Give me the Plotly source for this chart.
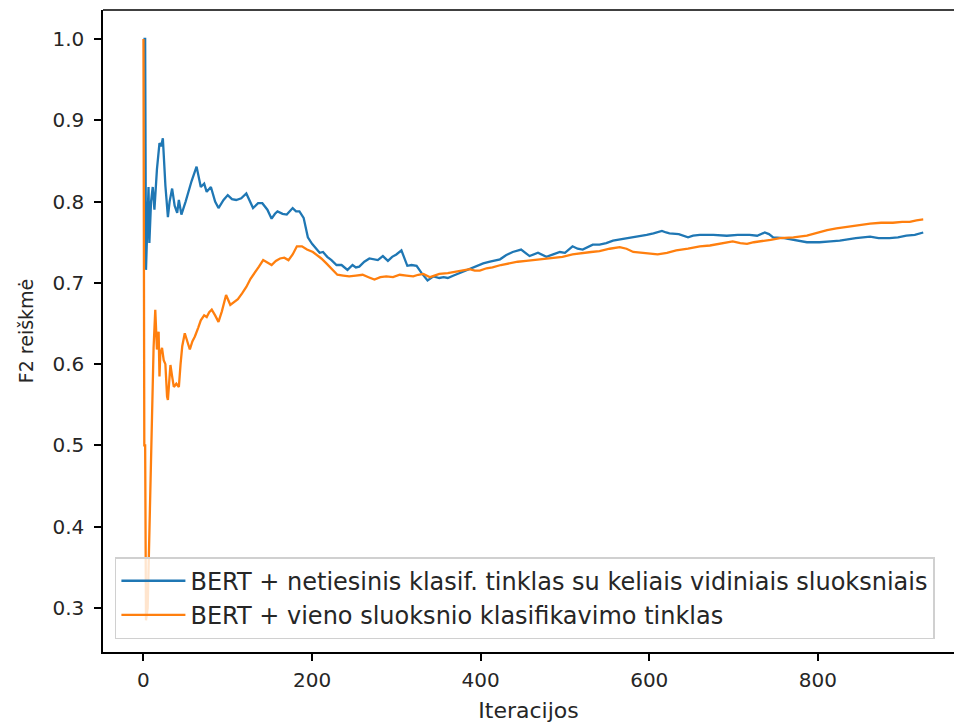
import plotly.graph_objects as go

series_names = [
    "BERT + netiesinis klasif. tinklas su keliais vidiniais sluoksniais",
    "BERT + vieno sluoksnio klasifikavimo tinklas",
]
series_colors = ["#1f77b4", "#ff7f0e"]

blue_x = [0, 2, 3, 6, 7, 9, 11, 13, 16, 19, 21, 23, 26, 29, 31, 34, 37, 40, 42, 45, 50, 57, 63, 68, 72, 75, 80, 85, 89, 95,
          100, 105, 110, 116, 122, 126, 130, 136, 141, 147, 152, 156, 159, 165, 170, 177, 181, 185, 190, 195, 200, 205,
          209, 213, 218, 223, 229, 235, 242, 248, 252, 256, 262, 268, 273, 278, 284, 290, 295, 300, 306, 310, 313, 318,
          324, 330, 337, 344, 351, 356, 361, 368, 375, 385, 395, 403, 411, 423, 430, 438, 448, 453, 458, 468, 478, 486,
          494, 500, 509, 515, 521, 533, 541, 549, 557, 569, 581, 590, 597, 605, 615, 620, 624, 635, 646, 652, 660, 676,
          692, 705, 719, 728, 737, 742, 747, 760, 771, 780, 787, 795, 802, 815, 826, 845, 862, 872, 885, 895, 905, 915, 925]
blue_y = [1.0, 1.0, 0.716, 0.818, 0.749, 0.80, 0.818, 0.79, 0.84, 0.872, 0.868, 0.878, 0.82, 0.781, 0.80, 0.816, 0.795,
          0.786, 0.802, 0.784, 0.80, 0.825, 0.843, 0.818, 0.822, 0.812, 0.818, 0.80, 0.792, 0.802,
          0.808, 0.803, 0.802, 0.804, 0.810, 0.800, 0.792, 0.798, 0.798, 0.790, 0.779, 0.785, 0.788, 0.785, 0.784, 0.792,
          0.788, 0.788, 0.780, 0.756, 0.748, 0.742,
          0.737, 0.738, 0.732, 0.728, 0.722, 0.722, 0.716, 0.722, 0.719, 0.720, 0.726, 0.730, 0.729, 0.728, 0.733, 0.727,
          0.732, 0.735, 0.740, 0.730, 0.721, 0.722,
          0.721, 0.712, 0.703, 0.708, 0.706, 0.707, 0.706, 0.709, 0.712, 0.716, 0.720, 0.724, 0.726, 0.729, 0.734, 0.738,
          0.741, 0.737, 0.733, 0.737, 0.732, 0.735,
          0.738, 0.737, 0.745, 0.742, 0.741, 0.747, 0.747, 0.749, 0.752, 0.754, 0.756, 0.757, 0.759, 0.761, 0.764, 0.762,
          0.761, 0.760, 0.756, 0.758, 0.759, 0.759,
          0.758, 0.759, 0.759, 0.758, 0.762, 0.760, 0.756, 0.755, 0.753, 0.751, 0.750, 0.750, 0.750, 0.751, 0.752, 0.755,
          0.757, 0.755, 0.755, 0.756, 0.758, 0.759, 0.762]

orange_x = [0, 1, 2, 3, 5, 8, 12, 14, 16, 18, 19, 20, 22, 24, 26, 28, 29, 31, 32, 34, 36, 39, 42, 44, 46, 49, 52, 55, 58,
            61, 65, 68, 72, 75, 78, 81, 85, 89, 93, 98, 103, 108, 112, 117, 122, 127, 132, 137, 142, 147, 152, 157, 162,
            167, 172, 177, 182, 188, 194, 201, 206, 211, 217, 223, 230, 237, 244, 252, 260, 267, 274, 281, 288, 296, 304,
            312, 320, 326, 332, 340, 346, 351, 361, 371, 379, 387, 393, 399, 407, 414, 424, 434, 444, 454, 463, 473, 485,
            497, 509, 521, 531, 541, 553, 565, 573, 581, 590, 600, 610, 621, 632, 646, 660, 672, 684, 692, 699, 708, 716,
            724, 732, 744, 755, 771, 787, 800, 811, 822, 834, 848, 862, 875, 889, 900, 909, 917, 925]
orange_y = [1.0, 0.50, 0.50, 0.285, 0.30, 0.45, 0.62, 0.667, 0.618, 0.64, 0.585, 0.613, 0.62, 0.605, 0.60, 0.56, 0.556,
            0.585, 0.599, 0.585, 0.572, 0.576, 0.572, 0.60, 0.622, 0.638, 0.628, 0.618, 0.628,
            0.634, 0.645, 0.654, 0.66, 0.658, 0.664, 0.667, 0.660, 0.652, 0.665, 0.685, 0.673, 0.677, 0.680, 0.687, 0.695,
            0.705, 0.712, 0.720, 0.728, 0.725, 0.722, 0.727, 0.730,
            0.731, 0.728, 0.735, 0.745, 0.745, 0.741, 0.738, 0.734, 0.730, 0.724, 0.718, 0.710, 0.709, 0.708, 0.709, 0.710,
            0.707, 0.704, 0.707, 0.708, 0.707, 0.710,
            0.709, 0.708, 0.710, 0.711, 0.707, 0.709, 0.711, 0.712, 0.714, 0.716, 0.717, 0.715, 0.715, 0.718, 0.719, 0.722,
            0.724, 0.726, 0.727, 0.728, 0.729, 0.730,
            0.732, 0.735, 0.737, 0.738, 0.739, 0.742, 0.744, 0.742, 0.738, 0.737, 0.736, 0.735, 0.737, 0.740, 0.742, 0.745,
            0.746, 0.748, 0.749, 0.751, 0.749, 0.748,
            0.750, 0.751, 0.753, 0.755, 0.756, 0.758, 0.762, 0.765, 0.767, 0.769, 0.771, 0.773, 0.774, 0.774, 0.775, 0.775,
            0.777, 0.778]

y_ticks = [0.3, 0.4, 0.5, 0.6, 0.7, 0.8, 0.9, 1.0]
x_ticks = [0, 200, 400, 600, 800]

FONT = "DejaVu Sans"
TXT = "#262626"

fig = go.Figure()
for name, xs, ys, col in [(series_names[0], blue_x, blue_y, series_colors[0]),
                          (series_names[1], orange_x, orange_y, series_colors[1])]:
    fig.add_trace(go.Scatter(x=xs, y=ys, mode="lines", name=name,
                             line=dict(color=col, width=2.3)))

fig.update_layout(
    width=954, height=726,
    margin=dict(l=103, r=0, t=10, b=74),
    paper_bgcolor="white", plot_bgcolor="white",
    font=dict(family=FONT, size=20, color=TXT),
    showlegend=True,
    legend=dict(x=0.014, y=0.02, xanchor="left", yanchor="bottom",
                bgcolor="rgba(255,255,255,0.8)", bordercolor="#d0d0d0", borderwidth=1.5,
                font=dict(family=FONT, size=24, color=TXT),
                tracegroupgap=4, itemwidth=64),
    xaxis=dict(range=[-48, 961.5], tickmode="array", tickvals=x_ticks,
               ticktext=[str(v) for v in x_ticks],
               showgrid=False, zeroline=False, showline=True, linecolor="black", linewidth=1.5,
               ticks="outside", ticklen=7, tickwidth=1.5, tickcolor="black",
               tickfont=dict(family=FONT, size=20, color=TXT), ticklabelstandoff=2,
               title=dict(text="Iteracijos", font=dict(family=FONT, size=22, color=TXT), standoff=12)),
    yaxis=dict(range=[0.2459, 1.0357], tickmode="array", tickvals=y_ticks,
               ticktext=[f"{v:.1f}" for v in y_ticks],
               showgrid=False, zeroline=False, showline=True, linecolor="black", linewidth=1.5,
               ticks="outside", ticklen=7, tickwidth=1.5, tickcolor="black",
               tickfont=dict(family=FONT, size=20, color=TXT), ticklabelstandoff=6,
               title=dict(text="F2 reiškmė", font=dict(family=FONT, size=19, color=TXT), standoff=14)),
    shapes=[dict(type="line", xref="paper", yref="paper", x0=0, x1=1, y0=1, y1=1,
                 line=dict(color="black", width=1.5))],
)

fig.write_html("out.html")
